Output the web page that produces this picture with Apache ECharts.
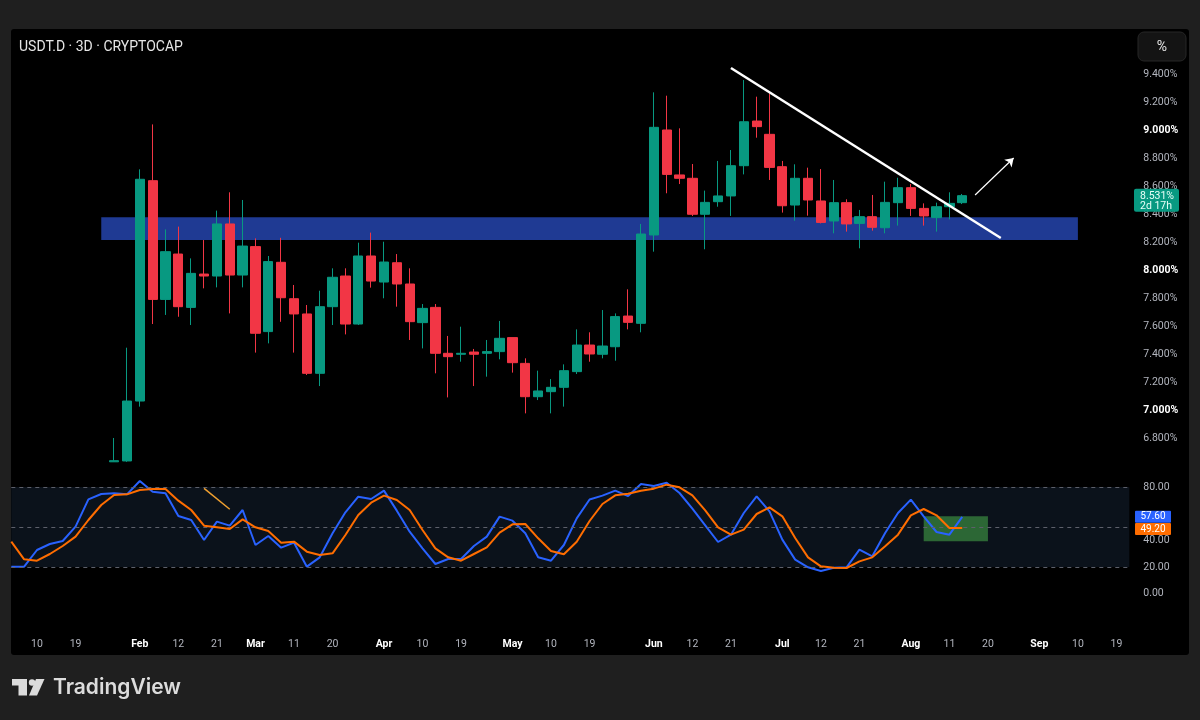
<!DOCTYPE html>
<html><head><meta charset="utf-8">
<script src="https://cdn.jsdelivr.net/npm/echarts@6/dist/echarts.min.js"></script>
<style>html,body{margin:0;padding:0;background:#1f1f1f;}#c{width:1200px;height:720px;}</style>
</head><body><div id="c"></div>
<script>
// ---- axis slots (3-day candles), index -2 .. 85
const firstIndex = -2;
const lastIndex = 85;

// ---- candles, index 6 .. 72
const candleStart = 6;
const opens  = [6.63,6.636,7.064,8.638,7.790,8.114,7.733,7.971,7.957,8.329,7.964,8.167,7.56,8.055,7.795,7.686,7.262,7.738,7.957,7.614,8.10,7.914,8.052,7.90,7.624,7.733,7.405,7.398,7.414,7.405,7.417,7.517,7.333,7.095,7.131,7.162,7.274,7.464,7.398,7.452,7.671,7.619,8.25,9.0,8.679,8.655,8.398,8.488,8.529,8.745,9.064,8.969,8.738,8.464,8.655,8.493,8.35,8.481,8.333,8.381,8.302,8.481,8.588,8.44,8.374,8.452,8.481];
const closes = [6.638,7.064,8.648,7.790,8.131,7.738,7.976,7.957,8.329,7.964,8.171,7.548,8.06,7.802,7.686,7.262,7.738,7.948,7.614,8.10,7.921,8.057,7.90,7.631,7.726,7.405,7.381,7.405,7.398,7.417,7.512,7.338,7.095,7.136,7.162,7.281,7.464,7.40,7.457,7.667,7.626,8.257,9.019,8.683,8.655,8.398,8.483,8.529,8.745,9.059,9.024,8.733,8.459,8.655,8.5,8.340,8.481,8.329,8.381,8.305,8.483,8.588,8.44,8.386,8.452,8.476,8.531];
const lows   = [6.63,6.63,7.024,7.614,7.679,7.666,7.607,7.869,7.876,7.69,7.876,7.41,7.476,7.63,7.41,7.25,7.171,7.607,7.54,7.607,7.874,7.798,7.738,7.5,7.44,7.262,7.09,7.345,7.171,7.238,7.362,7.267,6.976,7.071,6.976,7.024,7.257,7.345,7.369,7.352,7.576,7.555,8.131,8.548,8.614,8.386,8.148,8.452,8.386,8.683,8.945,8.643,8.41,8.352,8.388,8.333,8.262,8.274,8.155,8.281,8.262,8.317,8.386,8.317,8.274,8.362,8.471];
const highs  = [6.80,7.445,8.719,9.04,8.290,8.31,8.083,8.214,8.424,8.555,8.5,8.226,8.10,8.23,7.893,7.75,7.852,8.012,8.012,8.195,8.267,8.202,8.114,8.012,7.757,7.757,7.529,7.595,7.436,7.5,7.636,7.517,7.369,7.281,7.221,7.326,7.576,7.555,7.714,7.69,7.862,8.329,9.269,9.245,9.012,8.757,8.567,8.779,8.857,9.357,9.238,9.262,8.779,8.755,8.731,8.721,8.643,8.505,8.429,8.536,8.631,8.659,8.614,8.476,8.481,8.555,8.543];

// ---- Stoch RSI, index -2 .. 72
const stochStart = -2;
const stochK = [20.25,20.25,32.75,37.25,39.5,50.25,70.75,74.75,75.25,74.5,84.5,76.5,75.25,58.25,55.25,40.25,54,51,62.75,36.5,43.25,34.5,38.25,20.25,27.25,45.25,61,72.75,71,77.25,62.25,46.5,34,22.25,26,26,35.75,42.75,57.75,54.75,45.25,27.25,24.75,36.5,56.5,70.6,73.5,77.25,73.2,82.25,80.7,83.25,75.5,63.75,51.25,38.75,44.25,60.5,73,61.75,40.5,25.5,19.75,17,19.5,19.75,33,28,45.5,60.5,70.5,58,46.25,44.25,57.6];
const stochD = [39,25.75,24.75,29.75,35.75,42.75,55.25,66.5,74,74.5,77.75,78.5,78.5,69.75,62.75,51,49.75,48.5,55.75,49.75,47,38.25,39,31.5,29,30.25,44,59,68.25,73.5,70.25,62.75,47.75,34,27.25,24.75,29.75,34.75,45.75,52,52.25,41.5,32,29.5,39,54.5,67.25,73.75,75,77.25,78.75,81.75,79.75,73.75,62.5,49.75,44.25,48,59.75,64.75,58,41.75,27.25,20.5,19.5,19.25,24.25,27.25,35.5,44.25,58.75,63.5,58.75,49.25,49.2];

// ---- time axis tick labels
const tickIndex = [0,3,8,11,14,17,20,23,27,30,33,37,40,43,48,51,54,58,61,64,68,71,74,78,81,84];
const tickText  = ['10','19','Feb','12','21','Mar','11','20','Apr','10','19','May','10','19','Jun','12','21','Jul','12','21','Aug','11','20','Sep','10','19'];
const monthNames = ['Feb','Mar','Apr','May','Jun','Jul','Aug','Sep'];

// ---- price axis labels & stoch levels
const priceTicks = [6.8,7.0,7.2,7.4,7.6,7.8,8.0,8.2,8.4,8.6,8.8,9.0,9.2,9.4];
const stochLabels = [0,20,40,80];
const stochLevels = [20,50,80];

// ---- drawings
const zoneIdx = [5, 81];
const zonePrice = [8.214, 8.376];
const trendIdx = [54, 75];
const trendPrice = [9.443, 8.229];
const arrowIdx = [73, 76];
const arrowPrice = [8.536, 8.80];
const stochNoteIdx = [13, 15];
const stochNoteVal = [79, 63.3];
const boxIdx = [69, 74];
const boxVal = [39.3, 58];
const lastPrice = 8.531;
const lastK = 57.60, lastD = 49.20;

// ---- build
const cats = [];
for (let k = firstIndex; k <= lastIndex; k++) cats.push(String(k));
const candleData = cats.map(c => {
  const j = Number(c) - candleStart;
  if (j < 0 || j >= opens.length) return ['-','-','-','-'];
  return [opens[j], closes[j], lows[j], highs[j]];
});
const kData = cats.map(c => { const j = Number(c) - stochStart; return (j >= 0 && j < stochK.length) ? stochK[j] : '-'; });
const dData = cats.map(c => { const j = Number(c) - stochStart; return (j >= 0 && j < stochD.length) ? stochD[j] : '-'; });
const tickMap = {};
tickIndex.forEach((t, n) => tickMap[String(t)] = tickText[n]);

const UP = '#089981', DOWN = '#f23645';
const FONT = 'Roboto, "Noto Sans", sans-serif';

const chart = echarts.init(document.getElementById('c'), null, {renderer: 'canvas'});
const option = {
  backgroundColor: '#1f1f1f',
  animation: false,
  grid: [
    {left: 11.3, top: 33, width: 1118, height: 442, outerBoundsMode: 'none'},
    {left: 11.3, top: 460.33, width: 1118, height: 160, outerBoundsMode: 'none'}
  ],
  xAxis: [
    {type: 'category', gridIndex: 0, data: cats, boundaryGap: false, show: false},
    {type: 'category', gridIndex: 1, data: cats, boundaryGap: false,
     axisLine: {show: false}, axisTick: {show: false}, splitLine: {show: false},
     axisLabel: {
       interval: (idx, val) => tickMap[val] !== undefined,
       formatter: (val) => {
         const t = tickMap[val];
         if (t === undefined) return '';
         return monthNames.includes(t) ? '{m|' + t + '}' : '{d|' + t + '}';
       },
       margin: 19,
       hideOverlap: false,
       rich: {
         d: {color: '#b2b5be', fontSize: 10.5, fontFamily: FONT},
         m: {color: '#ffffff', fontSize: 10.5, fontWeight: 'bold', fontFamily: FONT}
       }
     }}
  ],
  yAxis: [
    {type: 'value', gridIndex: 0, position: 'right', min: 6.535714, max: 9.692857, scale: true,
     splitLine: {show: false}, axisLine: {show: false}, axisTick: {show: false},
     axisLabel: {
       customValues: priceTicks,
       margin: 14,
       formatter: (v) => {
         const s = v.toFixed(3) + '%';
         return Math.abs(v - Math.round(v)) < 1e-6 ? '{b|' + s + '}' : '{n|' + s + '}';
       },
       rich: {
         n: {color: '#b2b5be', fontSize: 10.5, fontFamily: FONT},
         b: {color: '#ffffff', fontSize: 10.5, fontWeight: 'bold', fontFamily: FONT}
       }
     }},
    {type: 'value', gridIndex: 1, position: 'right', min: -20, max: 100, interval: 20,
     splitLine: {show: false}, axisLine: {show: false}, axisTick: {show: false},
     axisLabel: {
       margin: 14, color: '#b2b5be', fontSize: 10.5, fontFamily: FONT,
       formatter: (v) => stochLabels.includes(v) ? v.toFixed(2) : ''
     }}
  ],
  series: [
    { // demand zone
      type: 'line', xAxisIndex: 0, yAxisIndex: 0, data: [], z: 1, silent: true,
      markArea: {silent: true, itemStyle: {color: '#1f3a93'},
        data: [[{xAxis: String(zoneIdx[0]), yAxis: zonePrice[1]}, {xAxis: String(zoneIdx[1]), yAxis: zonePrice[0]}]]}
    },
    {
      type: 'candlestick', xAxisIndex: 0, yAxisIndex: 0, data: candleData, z: 3,
      barWidth: '76%', clip: true,
      itemStyle: {color: UP, color0: DOWN, borderColor: UP, borderColor0: DOWN, borderWidth: 1},
      markLine: {
        silent: true, symbol: 'none', label: {show: false}, animation: false,
        data: [
          [{coord: [String(trendIdx[0]), trendPrice[0]], lineStyle: {color: '#ffffff', width: 2.5, type: 'solid'}},
           {coord: [String(trendIdx[1]), trendPrice[1]]}],
          [{coord: [String(arrowIdx[0]), arrowPrice[0]], symbol: 'none', lineStyle: {color: '#ffffff', width: 1.2, type: 'solid'}},
           {coord: [String(arrowIdx[1]), arrowPrice[1]], symbol: 'arrow', symbolSize: 8}]
        ]
      }
    },
    { // stoch background band and levels
      type: 'line', xAxisIndex: 1, yAxisIndex: 1, data: [], z: 1, silent: true,
      markArea: {silent: true, itemStyle: {color: '#0b121b'},
        data: [[{yAxis: stochLevels[0]}, {yAxis: stochLevels[2]}]]},
      markLine: {silent: true, symbol: 'none', label: {show: false},
        lineStyle: {color: '#5d606b', type: [4, 4], width: 1},
        data: stochLevels.map(v => ({yAxis: v}))}
    },
    { // green box
      type: 'line', xAxisIndex: 1, yAxisIndex: 1, data: [], z: 2, silent: true,
      markArea: {silent: true, itemStyle: {color: 'rgba(67,160,71,0.6)'},
        data: [[{xAxis: String(boxIdx[0]), yAxis: boxVal[1]}, {xAxis: String(boxIdx[1]), yAxis: boxVal[0]}]]}
    },
    {
      type: 'line', xAxisIndex: 1, yAxisIndex: 1, data: kData, z: 4, showSymbol: false,
      lineStyle: {color: '#2962ff', width: 2}, itemStyle: {color: '#2962ff'},
      markLine: {silent: true, symbol: 'none', label: {show: false},
        data: [[{coord: [String(stochNoteIdx[0]), stochNoteVal[0]], lineStyle: {color: '#f0a030', width: 1.5, type: 'solid'}},
                {coord: [String(stochNoteIdx[1]), stochNoteVal[1]]}]]}
    },
    {
      type: 'line', xAxisIndex: 1, yAxisIndex: 1, data: dData, z: 5, showSymbol: false,
      lineStyle: {color: '#ff6d00', width: 2}, itemStyle: {color: '#ff6d00'}
    }
  ]
};
chart.setOption(option);

// overlay graphics positioned through the chart's own scales
const py = chart.convertToPixel({yAxisIndex: 0}, lastPrice);
const ky = chart.convertToPixel({yAxisIndex: 1}, lastK);
const dy = chart.convertToPixel({yAxisIndex: 1}, lastD);
chart.setOption({
  graphic: {elements: [
    {type: 'rect', z: -100, shape: {x: 11, y: 29, width: 1178, height: 626, r: 3}, style: {fill: '#000000'}},
    {type: 'text', z: 10, x: 19, y: 47, style: {text: 'USDT.D · 3D · CRYPTOCAP', fill: '#e6e6e6', font: '14px ' + FONT, verticalAlign: 'middle'}},
    {type: 'rect', z: 10, shape: {x: 1138, y: 32, width: 48, height: 29, r: 6}, style: {fill: '#141414', stroke: '#262626', lineWidth: 1}},
    {type: 'text', z: 11, x: 1162, y: 47, style: {text: '%', fill: '#e6e6e6', font: '14px ' + FONT, align: 'center', verticalAlign: 'middle'}},
    {type: 'rect', z: 10, shape: {x: 1134, y: py - 7, width: 45, height: 23, r: 2}, style: {fill: UP}},
    {type: 'text', z: 11, x: 1140, y: py + 0.5, style: {text: lastPrice.toFixed(3) + '%', fill: '#e8fff8', font: '10.5px ' + FONT, verticalAlign: 'middle'}},
    {type: 'text', z: 11, x: 1140, y: py + 10.5, style: {text: '2d 17h', fill: '#e8fff8', font: '10.5px ' + FONT, verticalAlign: 'middle'}},
    {type: 'rect', z: 10, shape: {x: 1135, y: ky - 6, width: 36, height: 12, r: 1}, style: {fill: '#2962ff'}},
    {type: 'text', z: 11, x: 1153, y: ky, style: {text: lastK.toFixed(2), fill: '#ffffff', font: '10px ' + FONT, align: 'center', verticalAlign: 'middle'}},
    {type: 'rect', z: 10, shape: {x: 1135, y: dy - 5, width: 36, height: 12, r: 1}, style: {fill: '#ff6d00'}},
    {type: 'text', z: 11, x: 1153, y: dy + 1, style: {text: lastD.toFixed(2), fill: '#ffffff', font: '10px ' + FONT, align: 'center', verticalAlign: 'middle'}},
    // TradingView logo
    {type: 'polygon', z: 10, shape: {points: [[12,679],[27,679],[27,695.5],[18.5,695.5],[18.5,685.5],[12,685.5]]}, style: {fill: '#dcdcdc'}},
    {type: 'circle', z: 10, shape: {cx: 32, cy: 682.5, r: 3.2}, style: {fill: '#dcdcdc'}},
    {type: 'polygon', z: 10, shape: {points: [[36,679],[44.5,679],[37,695.5],[29,695.5]]}, style: {fill: '#dcdcdc'}},
    {type: 'text', z: 10, x: 53, y: 688, style: {text: 'TradingView', fill: '#dcdcdc', font: '600 21px Inter, ' + FONT, verticalAlign: 'middle'}}
  ]}
});
</script>
</body></html>
